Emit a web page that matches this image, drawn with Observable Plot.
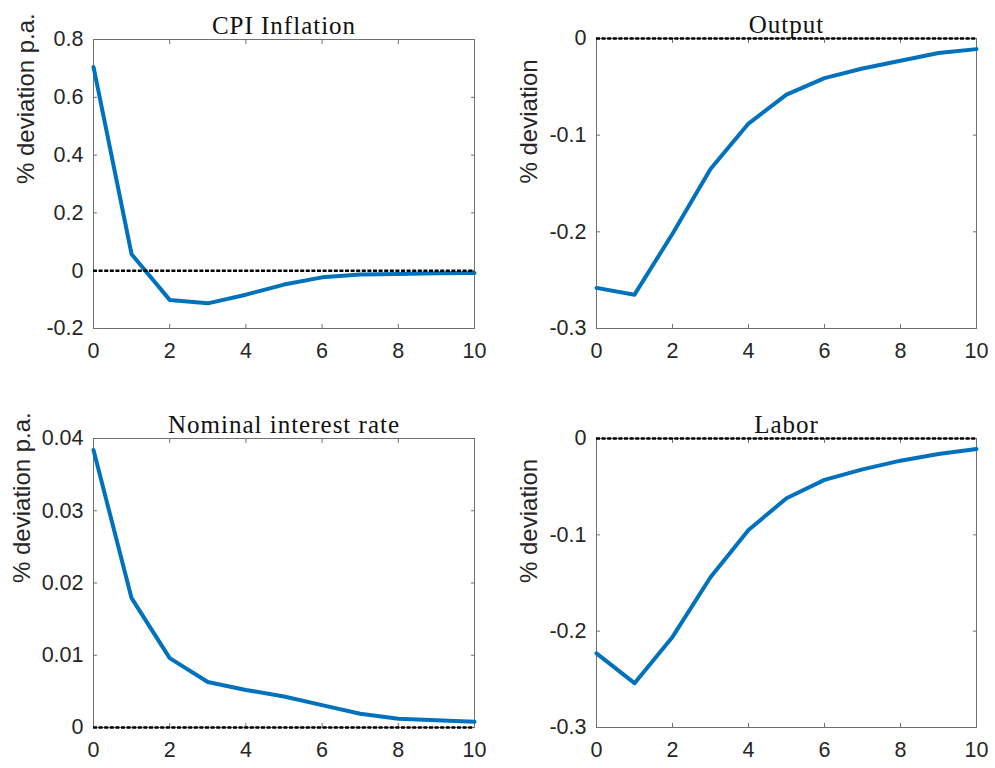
<!DOCTYPE html>
<html>
<head>
<meta charset="utf-8">
<script src="https://cdn.jsdelivr.net/npm/d3@7"></script>
<script src="https://cdn.jsdelivr.net/npm/@observablehq/plot@0.6"></script>
<style>
  html, body { margin: 0; padding: 0; background: #fff; }
  #root { position: relative; width: 995px; height: 768px; background: #fff; overflow: hidden; }
  .panel { position: absolute; }
</style>
</head>
<body>
<div id="root"></div>
<script>
// ---- data ----
const periods = [0, 1, 2, 3, 4, 5, 6, 7, 8, 9, 10];
const cpiInflation = [0.705, 0.057, -0.101, -0.113, -0.083, -0.048, -0.023, -0.013, -0.011, -0.009, -0.008];
const output = [-0.258, -0.265, -0.202, -0.135, -0.088, -0.058, -0.041, -0.031, -0.023, -0.015, -0.011];
const nominalRate = [0.0384, 0.0179, 0.0096, 0.0063, 0.0052, 0.0043, 0.0031, 0.0019, 0.0012, 0.0010, 0.0008];
const labor = [-0.223, -0.254, -0.206, -0.144, -0.095, -0.062, -0.043, -0.032, -0.023, -0.016, -0.011];

const xTicks = [0, 2, 4, 6, 8, 10];
const yTicksCPI = [-0.2, 0, 0.2, 0.4, 0.6, 0.8];
const yTicksOutput = [-0.3, -0.2, -0.1, 0];
const yTicksRate = [0, 0.01, 0.02, 0.03, 0.04];
const yTicksLabor = [-0.3, -0.2, -0.1, 0];

const titles = ["CPI Inflation", "Output", "Nominal interest rate", "Labor"];
const yLabels = ["% deviation p.a.", "% deviation", "% deviation p.a.", "% deviation"];

// ---- drawing ----
const AX = "#262626";
const BOX = "#707070";
const BLUE = "#0072BD";

function panel({values, yDomain, yTicks, title, yLabel, left, top, width, height, margins, labelDx}) {
  const [mt, mr, mb, ml] = margins;
  const data = periods.map((p, i) => ({p, v: values[i]}));
  const fmt = d => String(d);
  const chart = Plot.plot({
    width, height,
    marginTop: mt, marginRight: mr, marginBottom: mb, marginLeft: ml,
    x: {domain: [0, 10], label: null},
    y: {domain: yDomain, label: null},
    style: {fontFamily: "'Liberation Sans', Arial, Helvetica, sans-serif", fontSize: "21.5px", color: AX, background: "transparent", overflow: "visible"},
    marks: [
      Plot.frame({stroke: BOX, strokeWidth: 1}),
      Plot.axisX({ticks: xTicks, tickSize: -4, tickPadding: 18, tickFormat: fmt, label: null, stroke: BOX}),
      Plot.axisX({anchor: "top", ticks: xTicks, tickSize: -4, tickFormat: () => "", label: null, stroke: BOX}),
      Plot.axisY({ticks: yTicks, tickSize: -4, tickPadding: 14, tickFormat: fmt, label: null, stroke: BOX}),
      Plot.axisY({anchor: "right", ticks: yTicks, tickSize: -4, tickFormat: () => "", label: null, stroke: BOX}),
      Plot.lineY(data, {x: "p", y: "v", stroke: BLUE, strokeWidth: 4, strokeLinejoin: "round"}),
      Plot.ruleY([0], {stroke: "black", strokeWidth: 2.5, strokeDasharray: "4,1.6"}),
      Plot.text([title], {frameAnchor: "top", lineAnchor: "bottom", dy: -5.5, fontFamily: "'Liberation Serif', 'Times New Roman', serif", fontSize: 25, fill: "#111"}),
      Plot.text([yLabel], {frameAnchor: "left", rotate: -90, lineAnchor: "middle", dx: labelDx, fontSize: 24, fill: AX})
    ]
  });
  // widen the serif title a little, like the LaTeX font of the original
  chart.querySelectorAll("text").forEach(t => {
    if (t.textContent === title) t.setAttribute("letter-spacing", "1");
  });
  const div = document.createElement("div");
  div.className = "panel";
  div.style.left = left + "px";
  div.style.top = top + "px";
  div.appendChild(chart);
  document.getElementById("root").appendChild(div);
}

panel({values: cpiInflation, yDomain: [-0.2, 0.8], yTicks: yTicksCPI, title: titles[0], yLabel: yLabels[0],
  left: 0, top: 0, width: 490, height: 370, margins: [39, 16, 42, 93], labelDx: -67});
panel({values: output, yDomain: [-0.3, 0], yTicks: yTicksOutput, title: titles[1], yLabel: yLabels[1],
  left: 500, top: 0, width: 495, height: 370, margins: [38, 19, 42, 96], labelDx: -67});
panel({values: nominalRate, yDomain: [0, 0.04], yTicks: yTicksRate, title: titles[2], yLabel: yLabels[2],
  left: 0, top: 395, width: 490, height: 373, margins: [43, 16, 41, 93], labelDx: -71});
panel({values: labor, yDomain: [-0.3, 0], yTicks: yTicksLabor, title: titles[3], yLabel: yLabels[3],
  left: 500, top: 395, width: 495, height: 373, margins: [43, 19, 41, 96], labelDx: -67});
</script>
</body>
</html>
